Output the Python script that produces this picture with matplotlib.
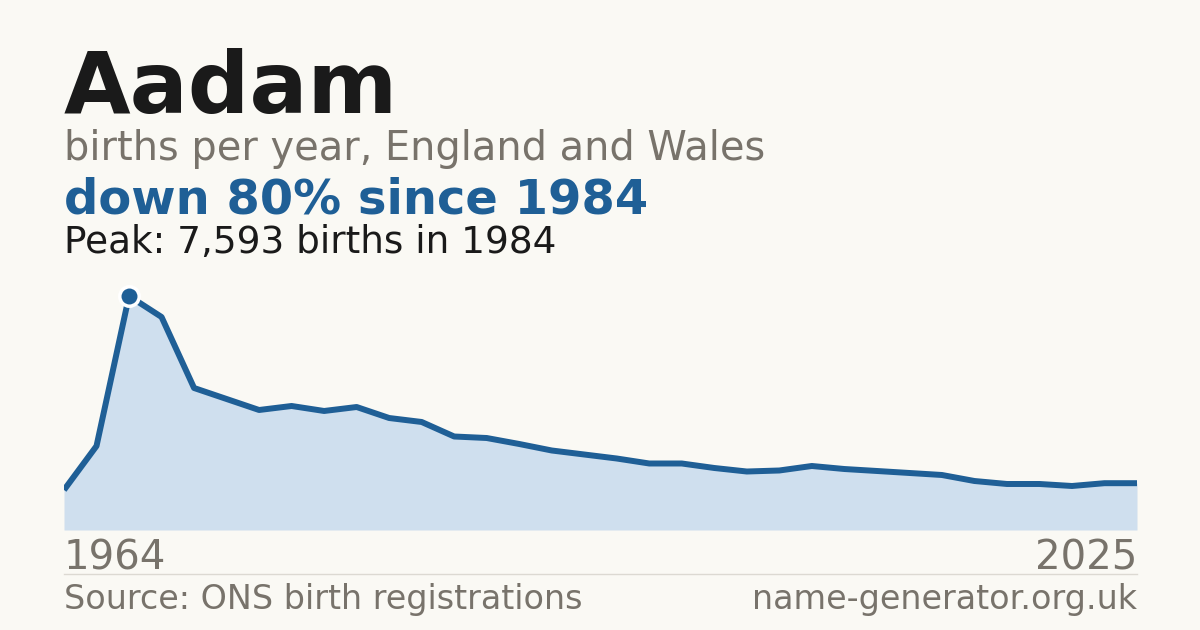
import os
import matplotlib
matplotlib.use("Agg")
import matplotlib.pyplot as plt
from matplotlib.font_manager import FontProperties

# ONS data: decade snapshots then yearly from 1996
years = [1964, 1974, 1984, 1994] + list(range(1996, 2026))
births = [1298, 2726, 7593, 6912, 4608, 4251, 3894, 4024, 3862, 3991,
          3634, 3505, 3034, 2985, 2791, 2580, 2450, 2320, 2158, 2158,
          2012, 1898, 1931, 2077, 1979, 1915, 1850, 1785, 1590, 1493,
          1493, 1428, 1519, 1519]

name = "Aadam"
subtitle = "births per year, England and Wales"
headline = "down 80% since 1984"
peak_note = "Peak: 7,593 births in 1984"
source = "Source: ONS birth registrations"
site = "name-generator.org.uk"

W, H = 1200, 630
bg = "#faf9f4"
dark = "#1a1a1a"
grey = "#78736b"
blue = "#1f5f96"
fill = "#cfdfee"

# use the DejaVu files shipped with matplotlib so the font is certain
ttf_dir = os.path.join(matplotlib.get_data_path(), "fonts", "ttf")
regular = os.path.join(ttf_dir, "DejaVuSans.ttf")
bold = os.path.join(ttf_dir, "DejaVuSans-Bold.ttf")


def font(size, heavy=False):
    return FontProperties(fname=bold if heavy else regular, size=size)


fig = plt.figure(figsize=(W / 100, H / 100), dpi=100, facecolor=bg)


def fx(px):
    return px / W


def fy(py):
    return 1 - py / H


# plot area in pixel terms
left, right, base, top = 64, 1137, 530, 280
ax = fig.add_axes([fx(left), fy(base), fx(right - left), (base - top) / H])
ax.set_facecolor("none")
idx = list(range(len(years)))
peak_i = births.index(max(births))
ax.fill_between(idx, births, 0, color=fill, linewidth=0)
ax.plot(idx, births, color=blue, linewidth=4.3, solid_joinstyle="round",
        solid_capstyle="butt")
ax.plot([idx[peak_i]], [births[peak_i]], marker="o", markersize=14,
        markerfacecolor=blue, markeredgecolor="white", markeredgewidth=2.5,
        clip_on=False, zorder=5)
ax.set_xlim(0, len(years) - 1)
ax.set_ylim(0, max(births) * (base - top) / (base - 296))
ax.axis("off")

# titles
fig.text(fx(64), fy(113), name, fontproperties=font(62, True), color=dark,
         va="baseline", ha="left")
fig.text(fx(64), fy(160), subtitle, fontproperties=font(28.7), color=grey,
         va="baseline", ha="left")
fig.text(fx(64), fy(214), headline, fontproperties=font(34.6, True), color=blue,
         va="baseline", ha="left")
fig.text(fx(64), fy(253), peak_note, fontproperties=font(26.9), color=dark,
         va="baseline", ha="left")

# year range
fig.text(fx(64), fy(570), str(years[0]), fontproperties=font(29), color=grey,
         va="baseline", ha="left")
fig.text(fx(1137), fy(570), str(years[-1]), fontproperties=font(29), color=grey,
         va="baseline", ha="right")

# separator and footer
fig.add_artist(plt.Line2D([fx(64), fx(1137)], [fy(574), fy(574)],
                          color="#dcd9d2", linewidth=1))
fig.text(fx(64), fy(609), source, fontproperties=font(24), color=grey,
         va="baseline", ha="left")
fig.text(fx(1137), fy(609), site, fontproperties=font(24), color=grey,
         va="baseline", ha="right")

fig.savefig("out.png", dpi=100, facecolor=bg)
